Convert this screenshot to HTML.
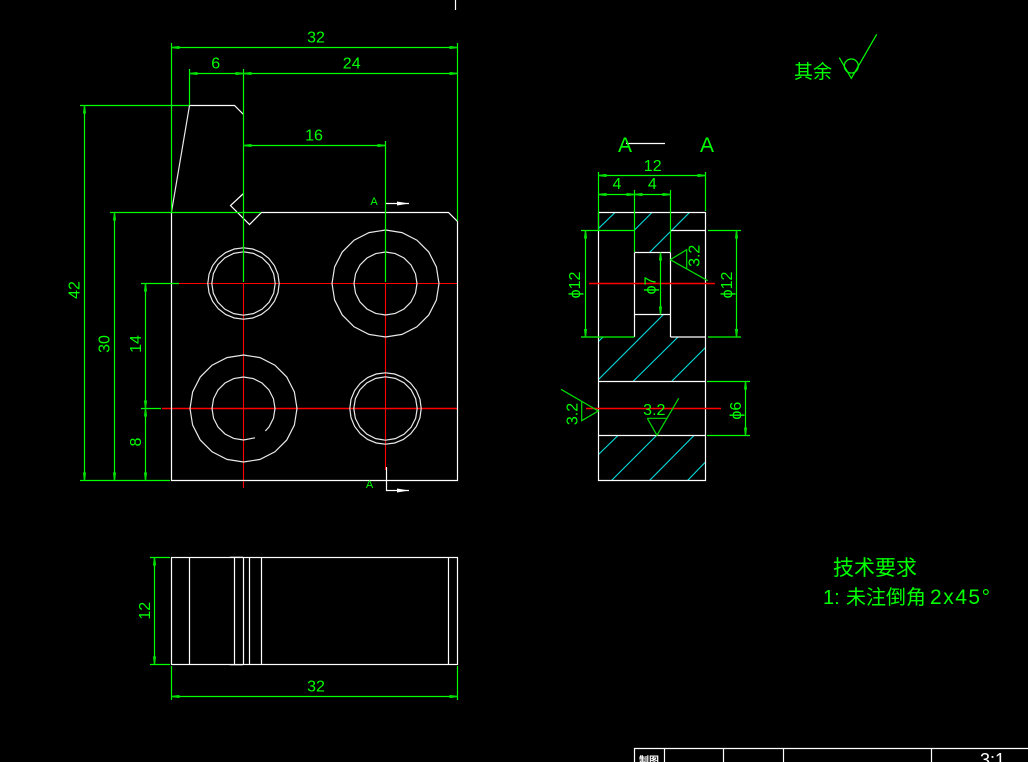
<!DOCTYPE html>
<html><head><meta charset="utf-8"><style>
html,body{margin:0;padding:0;background:#000;width:1028px;height:762px;overflow:hidden}
svg{display:block}
text{font-family:"Liberation Sans","Noto Sans CJK SC",sans-serif;fill:#0f0;font-size:16px}
.m{text-anchor:middle}
.g{stroke:#0f0;stroke-width:1.2;fill:none}
.w{stroke:#fff;stroke-width:1.2;fill:none}
.c{stroke:#e8e8e8;stroke-width:1.2;fill:none;vector-effect:non-scaling-stroke}
.r{stroke:#f00;stroke-width:1.1;fill:none}
.R{stroke:#f00;stroke-width:1.5;fill:none}
.h{stroke:#00e0e0;stroke-width:1.1;fill:none}
.d{stroke:#0f0;stroke-width:1.2;fill:none;marker-start:url(#a);marker-end:url(#a)}
</style></head><body>
<svg width="1028" height="762" viewBox="0 0 1028 762" xmlns="http://www.w3.org/2000/svg">
<defs>
<marker id="a" markerUnits="userSpaceOnUse" markerWidth="10" markerHeight="5" refX="8" refY="2.5" orient="auto-start-reverse"><path d="M0,0.9 L8,1.9 V3.1 L0,4.1 z" fill="#0d0"/></marker>
<polygon id="p20" class="c" points="0,-1 .309,-.951 .588,-.809 .809,-.588 .951,-.309 1,0 .951,.309 .809,.588 .588,.809 .309,.951 0,1 -.309,.951 -.588,.809 -.809,.588 -.951,.309 -1,0 -.951,-.309 -.809,-.588 -.588,-.809 -.309,-.951"/>
<polygon id="p24" class="c" points="0,-1 .259,-.966 .5,-.866 .707,-.707 .866,-.5 .966,-.259 1,0 .966,.259 .866,.5 .707,.707 .5,.866 .259,.966 0,1 -.259,.966 -.5,.866 -.707,.707 -.866,.5 -.966,.259 -1,0 -.966,-.259 -.866,-.5 -.707,-.707 -.5,-.866 -.259,-.966"/>
</defs>
<rect width="1028" height="762" fill="#000"/>
<path class="w" d="M455.5,0V10"/>

<!-- centre lines -->
<path class="r" d="M243.5,283V488M385.5,283V470M179,283.5H457"/>
<path class="R" d="M162,408.5H457"/>

<!-- front view -->
<path class="w" d="M171.5,212V480.5H457.5V221.5L448.5,212.5H261.5L249.5,224.5L230.5,205.5L243.5,193.5"/>
<path class="w" d="M189.5,105.5H234.5L243.5,114.5"/>
<path class="c" d="M171.5,212L189.5,105.5"/>
<use href="#p24" transform="translate(243.5,283.5) scale(35.7)"/>
<use href="#p20" transform="translate(243.5,283.5) scale(31.7)"/>
<use href="#p20" transform="translate(385.5,283.5) scale(53.5)"/>
<use href="#p20" transform="translate(385.5,283.5) scale(31.5)"/>
<use href="#p20" transform="translate(243.5,408.5) scale(53.5)"/>
<polyline class="c" transform="translate(243.5,408.5) scale(31.5)" points=".692,.714 .809,.588 .951,.309 1,0 .951,-.309 .809,-.588 .588,-.809 .309,-.951 0,-1 -.309,-.951 -.588,-.809 -.809,-.588 -.951,-.309 -1,0 -.951,.309 -.809,.588 -.588,.809 -.309,.951 0,1 .365,.93"/>
<use href="#p24" transform="translate(385.5,408.5) scale(35.7)"/>
<use href="#p20" transform="translate(385.5,408.5) scale(31.7)"/>

<!-- front view dimensions -->
<path class="g" d="M171.5,43V212M457.5,43V221M189.5,69V105M243.5,69V282M385.5,141V282"/>
<path class="g" d="M80,105.5H189M110,212.5H261M80,480.5H170M141,283.5H179M141,408.5H161"/>
<path class="d" d="M171.5,47.5H457.5"/>
<path class="d" d="M189.5,73.5H243.5"/>
<path class="d" d="M243.5,73.5H457.5"/>
<path class="d" d="M243.5,145.5H385.5"/>
<path class="d" d="M84.5,105.5V480.5"/>
<path class="d" d="M114.5,212.5V480.5"/>
<path class="d" d="M145.5,283.5V408.5"/>
<path class="d" d="M145.5,408.5V480.5"/>
<text class="m" x="316" y="42.5">32</text>
<text class="m" x="215.7" y="68.7">6</text>
<text class="m" x="351.7" y="68.7">24</text>
<text class="m" x="314" y="140.3">16</text>
<text class="m" transform="translate(79.5,290) rotate(-90)">42</text>
<text class="m" transform="translate(109.5,344) rotate(-90)">30</text>
<text class="m" transform="translate(141,344) rotate(-90)">14</text>
<text class="m" transform="translate(141,442) rotate(-90)">8</text>

<!-- section arrows -->
<text class="m" x="374" y="205" style="font-size:11px">A</text>
<text class="m" x="369.5" y="488" style="font-size:11px">A</text>
<path class="w" d="M386,203.5H409M386.5,467V490.5H409"/>
<path d="M397,201.5L409,203.5L397,205.5z" fill="#fff"/>
<path d="M397,488.5L409,490.5L397,492.5z" fill="#fff"/>

<!-- bottom view -->
<rect class="w" x="171.5" y="557.5" width="286" height="107"/>
<path class="w" d="M189.5,557V664M234.5,557V664M243.5,557V664M249.5,557V664M261.5,557V664M448.5,557V664"/>
<path stroke="#555" fill="none" d="M230,556.5H243M230,665.5H243"/>
<path class="g" d="M150,557.5H170M150,664.5H170M171.5,666V700M457.5,666V700"/>
<path class="d" d="M154.5,557.5V664.5"/>
<path class="d" d="M171.5,696.5H457.5"/>
<text class="m" transform="translate(150,610.7) rotate(-90)">12</text>
<text class="m" x="316" y="691.7">32</text>

<!-- section view hatching -->
<path class="h" d="M598.5,228.5L615,212.5M634.5,230L652,212.5M649.5,252.5L689.5,212.5M598.5,379.5L663.5,314.5M633,381.5L678,337M671.5,381.5L705.5,347.5M598.5,341.5L603,337M598.5,454.5L618,435.5M611.5,480.5L656.5,435.5M649.5,480.5L694,435.5M687.5,480.5L705.5,462"/>

<!-- section view -->
<path class="w" d="M598.5,212.5H705.5V480.5H598.5V212.5M634.5,252.5V337M670.5,252.5V337M634.5,252.5H670.5M634.5,314.5H670.5M670.5,230.5H705.5M670.5,337H705.5M598.5,381.5H705.5M598.5,435.5H705.5M626,143.5H665"/>
<path class="g" d="M581,230.5H634.5M581,337H634.5M708,230.5H741M708,337H741M598.5,172V230M705.5,172V211M634.5,190V252M670.5,190V252M707,381.5H750M707,435.5H750"/>
<path class="R" d="M589,283.5H715M586,408.5H721"/>
<path class="d" d="M598.5,175.5H705.5"/>
<path class="d" d="M598.5,194.5H634.5"/>
<path class="d" d="M634.5,194.5H670.5"/>
<path class="d" d="M585.5,230.5V337"/>
<path class="d" d="M736.5,230.5V337"/>
<path class="d" d="M660.5,252.5V314.5"/>
<path class="d" d="M745.5,381.5V435.5"/>
<path class="g" style="stroke:#0d0" d="M707.7,280.7L670.3,259.7L686.7,249.7V269M561,389.3L598.3,411L581.7,420.7V401.3M647.3,418.3H666.7M647.3,418.3L657,435.3L678.7,398.3"/>
<text class="m" x="625" y="152" style="font-size:21px">A</text>
<text class="m" x="707" y="152" style="font-size:21px">A</text>
<text class="m" x="652.7" y="171">12</text>
<text class="m" x="617" y="189">4</text>
<text class="m" x="652.3" y="189">4</text>
<text class="m" transform="translate(580,285) rotate(-90)">ϕ12</text>
<text class="m" transform="translate(732,285) rotate(-90)">ϕ12</text>
<text class="m" transform="translate(655.7,285.5) rotate(-90)">ϕ7</text>
<text class="m" transform="translate(741,410.7) rotate(-90)">ϕ6</text>
<text class="m" transform="translate(699.3,255.8) rotate(-90)">3.2</text>
<text class="m" transform="translate(577.7,414) rotate(-90)">3.2</text>
<text class="m" x="654.3" y="415">3.2</text>

<!-- notes -->
<text x="794" y="78" style="font-size:19px">其余</text>
<path class="g" d="M839.3,57.7L851.3,78.3L876.7,34.3"/>
<circle class="g" cx="851.3" cy="66" r="7"/>
<text x="833" y="575" style="font-size:21px">技术要求</text>
<text x="823" y="604" style="font-size:20px">1:</text>
<text x="846" y="604" style="font-size:20px">未注倒角</text>
<text x="930" y="604" style="font-size:21px" textLength="60" lengthAdjust="spacing">2x45°</text>

<!-- title block -->
<path class="w" d="M634.5,762V748.5H1028M664.5,748V762M723.5,748V762M783.5,748V762M931.5,748V762"/>
<text x="639" y="764" style="font-size:10px;fill:#fff;font-weight:bold">制图</text>
<text x="980" y="766" style="font-size:18px;fill:#fff">3:1</text>
</svg>
</body></html>
